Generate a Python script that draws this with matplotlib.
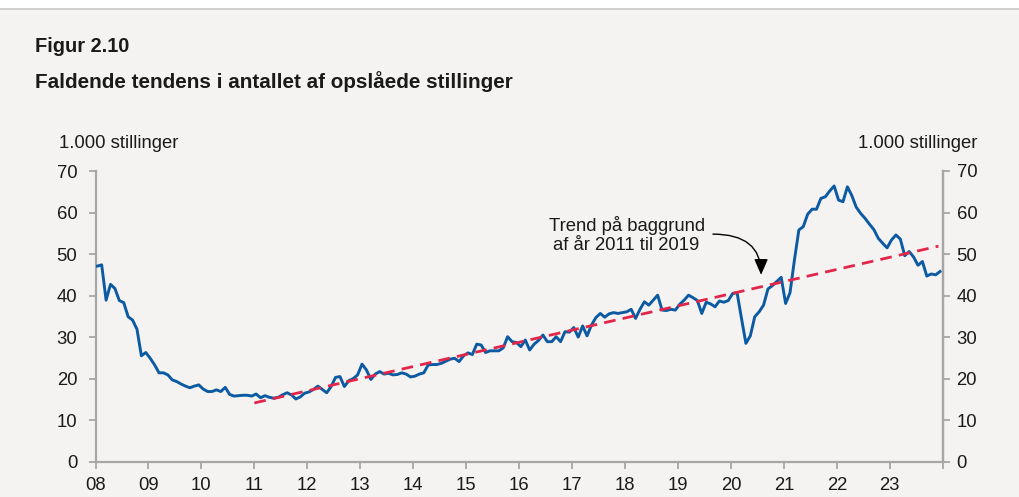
import numpy as np
import matplotlib
matplotlib.use("Agg")
import matplotlib.pyplot as plt

plt.rcParams['font.family'] = ['Liberation Sans', 'DejaVu Sans']

# ---- data (1.000 opslåede stillinger, monthly Jan 2008 - Dec 2023) ----
start_year = 2008
v2008 = [47.1, 47.4, 38.9, 42.7, 41.7, 38.8, 38.3, 34.9, 34.1, 31.9, 25.5, 26.3]
v2009 = [24.9, 23.3, 21.4, 21.4, 20.9, 19.7, 19.3, 18.7, 18.2, 17.8, 18.2, 18.5]
v2010 = [17.5, 16.9, 16.9, 17.3, 16.9, 17.9, 16.2, 15.8, 15.9, 16.0, 16.0, 15.8]
v2011 = [16.3, 15.4, 15.9, 15.5, 15.3, 15.5, 16.1, 16.6, 16.1, 15.1, 15.6, 16.5]
v2012 = [16.8, 17.4, 18.2, 17.4, 16.6, 18.1, 20.3, 20.5, 18.1, 19.5, 20.0, 20.9]
v2013 = [23.5, 22.1, 19.8, 21.1, 21.7, 21.1, 21.3, 20.9, 21.0, 21.4, 21.1, 20.4]
v2014 = [20.6, 21.1, 21.4, 23.3, 23.4, 23.4, 23.7, 24.2, 24.7, 24.9, 24.1, 25.5]
v2015 = [26.2, 25.8, 28.3, 28.1, 26.3, 26.7, 26.7, 26.7, 27.4, 30.1, 28.9, 28.7]
v2016 = [27.7, 29.3, 26.9, 28.3, 29.2, 30.5, 28.9, 28.9, 30.1, 28.9, 31.3, 31.2]
v2017 = [32.3, 30.0, 32.7, 30.3, 32.9, 34.7, 35.7, 34.8, 35.6, 35.9, 35.7, 35.9]
v2018 = [36.1, 36.7, 34.5, 36.7, 38.5, 37.7, 38.9, 40.1, 36.5, 36.4, 36.7, 36.5]
v2019 = [37.9, 38.9, 40.1, 39.5, 38.8, 35.7, 38.4, 38.0, 37.3, 38.7, 38.4, 38.8]
v2020 = [40.5, 40.7, 34.5, 28.5, 30.3, 34.9, 36.1, 37.7, 41.6, 42.4, 43.4, 44.4]
v2021 = [38.1, 40.7, 48.6, 55.8, 56.6, 59.6, 60.8, 60.8, 63.4, 63.8, 65.2, 66.4]
v2022 = [63.0, 62.6, 66.2, 64.1, 61.3, 59.8, 58.6, 57.2, 55.9, 53.8, 52.6, 51.5]
v2023 = [53.4, 54.6, 53.6, 49.6, 50.6, 49.3, 47.3, 48.2, 44.7, 45.2, 45.0, 45.8]

# trend line (estimated on 2011-2019), endpoints
trend_years = [2011.0, 2023.92]
trend_values = [14.15, 51.9]

xtick_years = list(range(2008, 2025))
xtick_labels = ['08', '09', '10', '11', '12', '13', '14', '15', '16', '17',
                '18', '19', '20', '21', '22', '23', '']
yticks = [0, 10, 20, 30, 40, 50, 60, 70]

title1 = "Figur 2.10"
title2 = "Faldende tendens i antallet af opslåede stillinger"
unit_label = "1.000 stillinger"
annot_text = "Trend på baggrund\naf år 2011 til 2019"

values = np.array(v2008 + v2009 + v2010 + v2011 + v2012 + v2013 + v2014 + v2015 +
                  v2016 + v2017 + v2018 + v2019 + v2020 + v2021 + v2022 + v2023)
months = np.arange(len(values))
x = start_year + (months + 0.4) / 12.0

# ---- style ----
bg = '#f4f3f1'
blue = '#0b5aa2'
red = '#e2264a'
axis_gray = '#a6a6a6'
txt = '#1a1a1a'
fs = 13.3

W, H = 1019, 497
fig = plt.figure(figsize=(W / 100, H / 100), dpi=100, facecolor=bg)

# white strip and thin line at the top
fig.patches.append(plt.Rectangle((0, 1 - 8 / H), 1, 8 / H, transform=fig.transFigure,
                                 facecolor='white', edgecolor='none', zorder=0))
fig.add_artist(plt.Line2D([0, 1], [1 - 8.5 / H, 1 - 8.5 / H], transform=fig.transFigure,
                          color='#c9c9c9', lw=1.2))

left, right = 95.5 / W, 942.7 / W
bottom, top = (H - 461.7) / H, (H - 171) / H
ax = fig.add_axes([left, bottom, right - left, top - bottom])
ax.set_facecolor(bg)

ax.plot(x, values, color=blue, lw=2.1, solid_joinstyle='round', zorder=3)
ax.plot(trend_years, trend_values, color=red, lw=2.0, dashes=(4.2, 2.6), zorder=4)

ax.set_xlim(2008, 2024)
ax.set_ylim(0, 70)

ax.spines['top'].set_visible(False)
for s in ['left', 'right', 'bottom']:
    ax.spines[s].set_color(axis_gray)
    ax.spines[s].set_linewidth(1.6)

ax.set_xticks(xtick_years)
ax.set_xticklabels(xtick_labels)
ax.set_yticks(yticks)
ax.tick_params(axis='both', colors=axis_gray, labelcolor=txt, labelsize=fs,
               length=5, width=1.3, direction='out')
ax.tick_params(axis='y', left=True, right=False, labelleft=True, labelright=False, pad=8)
ax.tick_params(axis='x', pad=6)

# right-hand axis (same scale)
ax2 = ax.twinx()
ax2.set_ylim(0, 70)
ax2.set_yticks(yticks)
ax2.tick_params(axis='y', colors=axis_gray, labelcolor=txt, labelsize=fs,
                length=5, width=1.3, direction='out', pad=5)
for s in ['top', 'left', 'bottom']:
    ax2.spines[s].set_visible(False)
ax2.spines['right'].set_color(axis_gray)
ax2.spines['right'].set_linewidth(1.6)

# titles
fig.text(35 / W, 1 - 47 / H, title1, fontsize=14.4, fontweight='bold', color=txt,
         ha='left', va='center')
fig.text(35 / W, 1 - 82 / H, title2, fontsize=14.9, fontweight='bold', color=txt,
         ha='left', va='center')
fig.text(59 / W, 1 - 143 / H, unit_label, fontsize=fs, color=txt, ha='left', va='center')
fig.text(977 / W, 1 - 143 / H, unit_label, fontsize=fs, color=txt, ha='right', va='center')

# annotation
ax.text(2018.03, 54.6, annot_text, fontsize=fs, color=txt, ha='center', va='center',
        linespacing=1.2)
ax.annotate('', xy=(2020.57, 45.0), xytext=(2019.66, 54.8),
            arrowprops=dict(arrowstyle='-|>,head_length=0.8,head_width=0.35',
                            connectionstyle='angle3,angleA=0,angleB=-90',
                            color='black', lw=1.0, mutation_scale=12,
                            shrinkA=0, shrinkB=0))

fig.savefig('out.png', dpi=100, facecolor=bg)
